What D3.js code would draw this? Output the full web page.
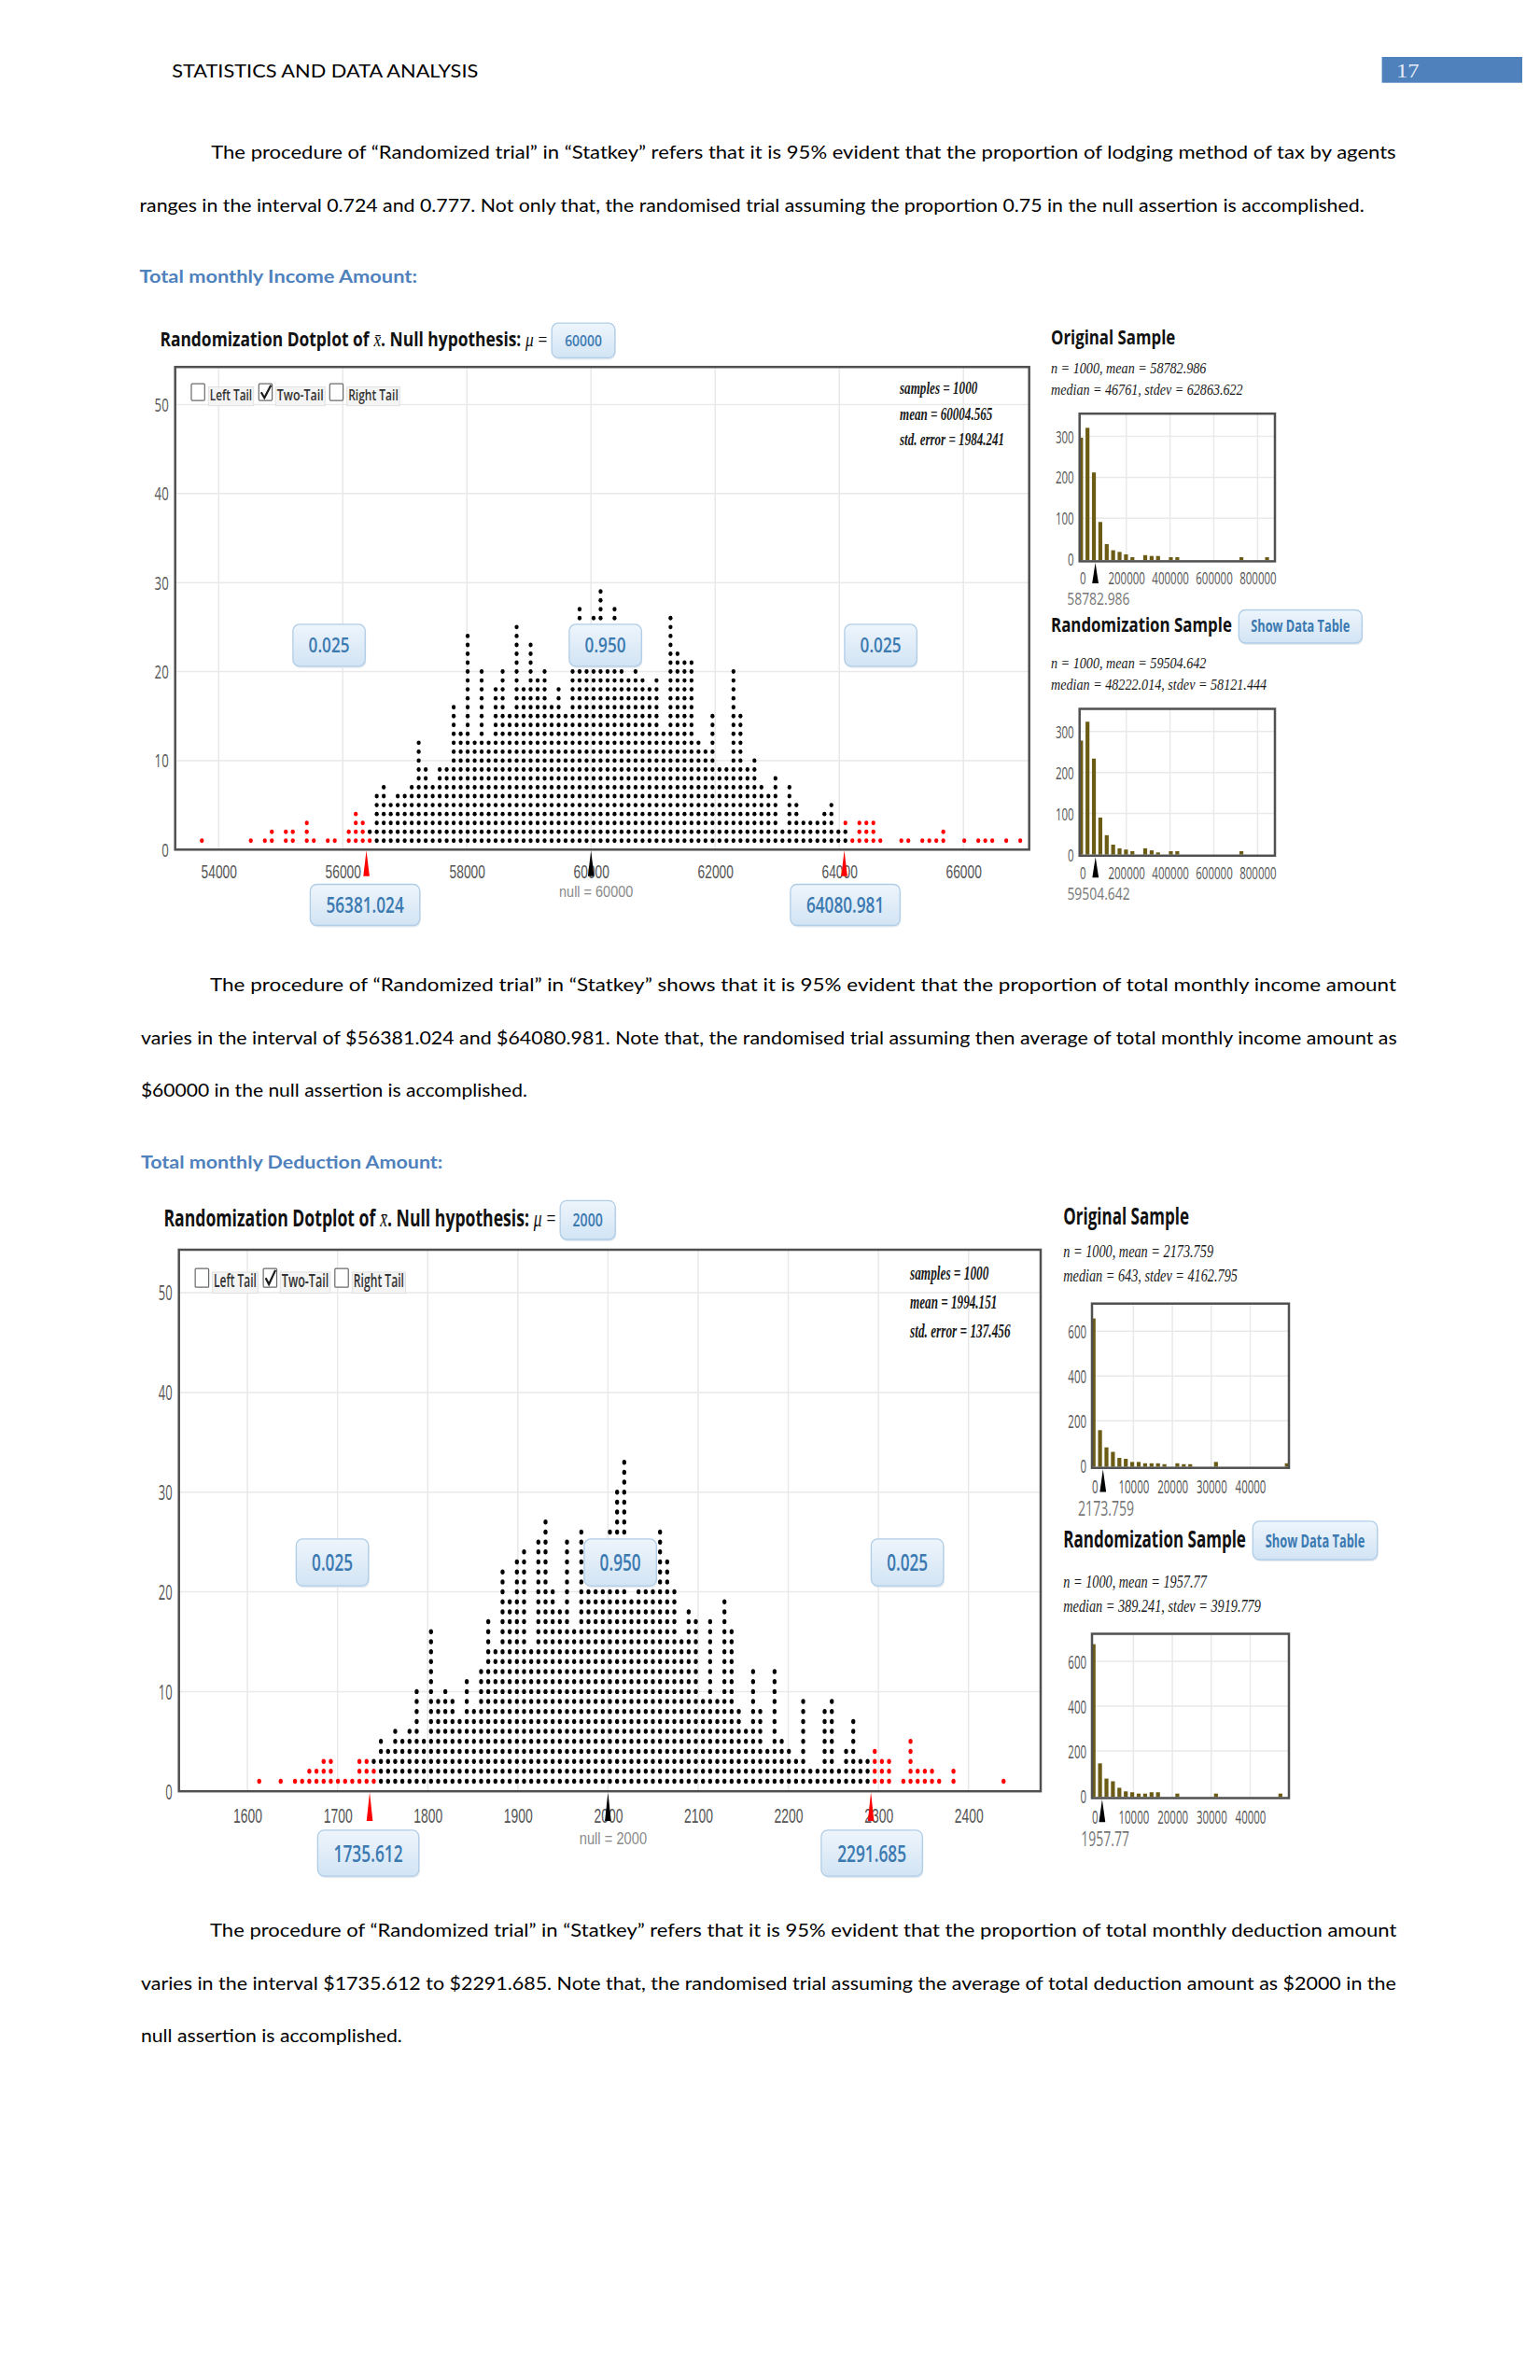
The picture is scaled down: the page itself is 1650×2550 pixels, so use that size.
<!DOCTYPE html>
<html><head><meta charset="utf-8">
<script src="https://cdn.jsdelivr.net/npm/d3@7"></script>
<style>html,body{margin:0;padding:0;background:#fff;} svg{display:block;}</style>
</head><body>
<svg id="page" width="1650" height="2550" xmlns="http://www.w3.org/2000/svg"></svg>
<script>
// ================= DATA =================
const headerTitle = "STATISTICS AND DATA ANALYSIS";
const pageNumber = "17";
const para1Lines = [
  "The procedure of \u201cRandomized trial\u201d in \u201cStatkey\u201d refers that it is 95% evident that the proportion of lodging method of tax by agents",
  "ranges in the interval 0.724 and 0.777. Not only that, the randomised trial assuming the proportion 0.75 in the null assertion is accomplished."
];
const heading1 = "Total monthly Income Amount:";
const para2Lines = [
  "The procedure of \u201cRandomized trial\u201d in \u201cStatkey\u201d shows that it is 95% evident that the proportion of total monthly income amount",
  "varies in the interval of $56381.024 and $64080.981. Note that, the randomised trial assuming then average of total monthly income amount as",
  "$60000 in the null assertion is accomplished."
];
const heading2 = "Total monthly Deduction Amount:";
const para3Lines = [
  "The procedure of \u201cRandomized trial\u201d in \u201cStatkey\u201d refers that it is 95% evident that the proportion of total monthly deduction amount",
  "varies in the interval $1735.612 to $2291.685. Note that, the randomised trial assuming the average of total deduction amount as $2000 in the",
  "null assertion is accomplished."
];

// --- dotplot 1 : income (randomization means, one dot per sample, stacked per column)
const incomeCounts = [1,0,0,0,0,0,0,1,0,1,2,0,2,2,0,3,1,0,1,1,0,2,4,3,2,
  6,7,5,6,6,7,12,9,7,9,9,16,13,24,12,20,12,18,20,15,25,18,23,19,20,16,18,15,21,27,21,26,29,
  21,27,20,19,20,19,18,19,13,26,22,21,21,12,11,15,9,9,20,15,9,10,7,6,8,2,7,5,3,3,3,4,5,2,3,
  1,3,3,3,1,0,0,1,1,0,1,1,1,2,0,0,1,0,1,1,1,0,1,0,1];
const incomeBinStart = 53730;
const incomeBinWidth = 112.7;
const incomeMixedCols = [24, 92];
const incomeMixedRed = [1, 1];
const incomeXTicks = [54000, 56000, 58000, 60000, 62000, 64000, 66000];
const incomeNull = 60000;
const incomeCI = [56381.024, 64080.981];
const incomeProps = ["0.025", "0.950", "0.025"];
const incomeStatLines = ["samples = 1000", "mean = 60004.565", "std. error = 1984.241"];

// --- dotplot 2 : deduction
const dedCounts = [1,0,0,1,0,1,1,2,2,3,3,1,1,1,3,3,3,
  5,4,6,5,6,10,5,16,9,10,9,7,11,8,12,17,14,22,19,23,24,14,25,27,20,18,25,16,26,21,20,20,26,30,33,
  19,20,20,21,26,23,20,15,18,17,9,17,9,19,16,8,6,12,8,4,12,5,4,3,9,2,2,8,9,2,4,7,3,3,4,3,3,
  0,1,5,2,2,2,1,0,2,0,0,0,0,0,0,1];
const dedBinStart = 1613.1;
const dedBinWidth = 7.94;
const dedMixedCols = [16];
const dedMixedRed = [2];
const dedXTicks = [1600, 1700, 1800, 1900, 2000, 2100, 2200, 2300, 2400];
const dedNull = 2000;
const dedCI = [1735.612, 2291.685];
const dedProps = ["0.025", "0.950", "0.025"];
const dedStatLines = ["samples = 1000", "mean = 1994.151", "std. error = 137.456"];

const dotYTicks = [0, 10, 20, 30, 40, 50];
const tailLabels = ["Left Tail", "Two-Tail", "Right Tail"];
const tailChecked = [false, true, false];
const titlePieces = ["Randomization Dotplot of", "x\u0304", ". Null hypothesis:", "\u03bc", "="];

// --- small histograms (income)
const incomeHistXTicks = [0, 200000, 400000, 600000, 800000];
const incomeHistYTicks = [0, 100, 200, 300];
const incomeHistBin0 = -6400;
const incomeHistBinWidth = 29300;
const incomeOrigHist = [297,321,212,91,37,22,18,12,5,0,10,8,8,0,5,5,0,0,0,0,0,0,0,0,0,5,0,0,0,5];
const incomeRandHist = [278,324,234,90,47,24,15,12,8,0,15,10,5,0,8,8,0,0,0,0,0,0,0,0,0,8];
const incomeOrigMean = 58782.986;
const incomeRandMean = 59504.642;
const incomeOrigStatLines = ["n = 1000, mean = 58782.986", "median = 46761, stdev = 62863.622"];
const incomeRandStatLines = ["n = 1000, mean = 59504.642", "median = 48222.014, stdev = 58121.444"];

// --- small histograms (deduction)
const dedHistXTicks = [0, 10000, 20000, 30000, 40000];
const dedHistYTicks = [0, 200, 400, 600];
const dedHistBin0 = -240;
const dedHistBinWidth = 1655;
const dedOrigHist = [657,158,81,61,34,30,16,16,10,10,10,6,0,10,6,6,0,0,0,16,0,0,0,0,0,0,0,0,0,0,10];
const dedRandHist = [677,145,77,65,36,20,16,10,10,16,16,0,0,10,0,0,0,0,0,10,0,0,0,0,0,0,0,0,0,10];
const dedOrigMean = 2173.759;
const dedRandMean = 1957.77;
const dedOrigStatLines = ["n = 1000, mean = 2173.759", "median = 643, stdev = 4162.795"];
const dedRandStatLines = ["n = 1000, mean = 1957.77", "median = 389.241, stdev = 3919.779"];

// ================= DRAWING =================
const svg = d3.select('#page');
const FONT_UI = "'Open Sans', 'DejaVu Sans', sans-serif";
const FONT_AXIS = "'Liberation Sans', Arial, sans-serif";
const FONT_SERIF = "'Liberation Serif', 'DejaVu Serif', serif";
const FONT_DOC = "Lato, 'Open Sans', sans-serif";
const BLUE_TXT = '#3b79b1';

const defs = svg.append('defs');
const grad = defs.append('linearGradient').attr('id', 'bluegrad').attr('x1', 0).attr('y1', 0).attr('x2', 0).attr('y2', 1);
grad.append('stop').attr('offset', '0%').attr('stop-color', '#eef5fc');
grad.append('stop').attr('offset', '100%').attr('stop-color', '#d2e4f4');

svg.append('rect').attr('width', 1650).attr('height', 2550).attr('fill', '#fff');

// place a text so that it spans exactly `w` px horizontally (horizontal scale transform)
function placeText(t, x0, y, w) {
  const nat = t.node().getComputedTextLength();
  const s = nat > 0 ? w / nat : 1;
  t.attr('x', 0).attr('y', 0).attr('text-anchor', 'start')
    .attr('transform', `translate(${x0},${y}) scale(${s.toFixed(4)},1)`);
}

function label(g, s, o) {
  const t = g.append('text').attr('x', 0).attr('y', 0)
    .attr('font-family', o.family || FONT_UI).attr('font-size', o.size)
    .attr('font-weight', o.weight || 400).attr('font-style', o.style || 'normal')
    .attr('fill', o.fill || '#000').text(s);
  const nat = t.node().getComputedTextLength();
  const w = o.width != null ? o.width : nat * (o.hx == null ? 1 : o.hx);
  const a = o.anchor || 'start';
  const x0 = a === 'middle' ? o.x - w / 2 : a === 'end' ? o.x - w : o.x;
  placeText(t, x0, o.y, w);
  return t;
}

function styleAxisText(axisG, o) {
  axisG.select('.domain').remove();
  axisG.selectAll('.tick line').remove();
  axisG.attr('font-family', null).attr('font-size', null);
  axisG.selectAll('.tick text').each(function () {
    const t = d3.select(this).attr('font-family', o.family || FONT_UI).attr('font-size', o.size)
      .attr('fill', o.fill).attr('dy', null);
    const nat = this.getComputedTextLength();
    const w = o.width != null ? o.width(t.text()) : nat * o.hx;
    const x0 = o.anchor === 'middle' ? o.ax - w / 2 : o.anchor === 'end' ? o.ax - w : o.ax;
    placeText(t, x0, o.y, w);
  });
}

function blueBox(g, x0, y0, w, h) {
  g.append('rect').attr('x', x0 + 1).attr('y', y0 + 2).attr('width', w).attr('height', h).attr('rx', 7)
    .attr('fill', '#e6ebf0');
  g.append('rect').attr('x', x0).attr('y', y0).attr('width', w).attr('height', h).attr('rx', 7)
    .attr('fill', 'url(#bluegrad)').attr('stroke', '#b0cde7').attr('stroke-width', 1.3);
}

// ---------- page text ----------
function docLine(s, x0, x1, baseline, o) {
  o = o || {};
  label(svg, s, { x: x0, y: baseline, size: o.size || 19, family: FONT_DOC, weight: o.weight || 400,
    fill: o.fill || '#000', width: x1 - x0 });
}
label(svg, headerTitle, { x: 184.2, y: 83, size: 20, family: FONT_DOC, fill: '#000', width: 328.3 });
svg.append('rect').attr('x', 1480.6).attr('y', 61).attr('width', 150.4).attr('height', 27.7).attr('fill', '#4f81bd');
label(svg, pageNumber, { x: 1496, y: 83, size: 22, family: FONT_SERIF, fill: '#e6edf7', width: 24.6 });

docLine(para1Lines[0], 226.2, 1496.6, 170);
docLine(para1Lines[1], 149.5, 1462.7, 226.7);
docLine(heading1, 149.5, 447.2, 303.3, { weight: 700, fill: '#4f81bd' });
docLine(para2Lines[0], 225, 1496.8, 1062.3);
docLine(para2Lines[1], 150.9, 1496.8, 1119.3);
docLine(para2Lines[2], 150.9, 565.3, 1175);
docLine(heading2, 150.9, 474.7, 1251.7, { weight: 700, fill: '#4f81bd' });
docLine(para3Lines[0], 225, 1496.8, 2075);
docLine(para3Lines[1], 150.9, 1496.8, 2131.7);
docLine(para3Lines[2], 150.9, 431.2, 2188.3);

// ---------- dotplot ----------
function drawDotplot(c) {
  const g = svg.append('g');
  const fs = c.fs;
  const ws = (c.right - c.left) / 915;
  const x = d3.scaleLinear().domain(c.xDomain).range([c.left, c.right]);
  const y = d3.scaleLinear().domain([0, 50]).range([c.bottom, c.y50]);

  g.append('g').selectAll('line').data(c.xTicks).join('line')
    .attr('x1', d => x(d)).attr('x2', d => x(d)).attr('y1', c.top).attr('y2', c.bottom)
    .attr('stroke', '#e9e9e9').attr('stroke-width', 1.5);
  g.append('g').selectAll('line').data(dotYTicks.filter(d => d > 0)).join('line')
    .attr('x1', c.left).attr('x2', c.right).attr('y1', d => y(d)).attr('y2', d => y(d))
    .attr('stroke', '#e9e9e9').attr('stroke-width', 1.5);

  const dots = [];
  c.counts.forEach((n, k) => {
    const v = c.binStart + k * c.binWidth;
    const mi = c.mixedCols.indexOf(k);
    for (let i = 1; i <= n; i++) {
      let red = v < c.ci[0] || v > c.ci[1];
      if (mi >= 0) {
        const r = c.mixedRed[mi];
        red = v < c.nullVal ? i <= r : i > n - r;
      }
      dots.push({ v, i, red });
    }
  });
  g.append('g').selectAll('ellipse').data(dots).join('ellipse')
    .attr('cx', d => x(d.v)).attr('cy', d => y(d.i))
    .attr('rx', 2.15).attr('ry', 2.45 * fs)
    .attr('fill', d => d.red ? '#ff0000' : '#000');

  g.append('rect').attr('x', c.left).attr('y', c.top).attr('width', c.right - c.left).attr('height', c.bottom - c.top)
    .attr('fill', 'none').attr('stroke', '#505050').attr('stroke-width', 2.5);

  const xa = g.append('g').attr('transform', `translate(0,${c.bottom})`)
    .call(d3.axisBottom(x).tickValues(c.xTicks).tickFormat(d3.format('d')).tickSize(0));
  styleAxisText(xa, { family: FONT_AXIS, size: 20 * fs, fill: '#555', anchor: 'middle', ax: 0, y: 30.3 * fs,
    width: s => s.length * c.digitW });
  const ya = g.append('g').attr('transform', `translate(${c.left},0)`)
    .call(d3.axisLeft(y).tickValues(dotYTicks).tickFormat(d3.format('d')).tickSize(0));
  styleAxisText(ya, { size: 20 * fs, fill: '#555', hx: c.hx, anchor: 'end', ax: -7, y: 7 * fs });

  const tri = (cx, col) => g.append('path')
    .attr('d', `M${cx - 3.3},${c.bottom + 28.5 * fs} L${cx},${c.bottom + 1} L${cx + 3.3},${c.bottom + 28.5 * fs} Z`)
    .attr('fill', col);
  tri(x(c.nullVal), '#000');
  tri(x(c.ci[0]), '#ff0000');
  tri(x(c.ci[1]), '#ff0000');
  label(g, 'null = ' + c.nullVal, { x: x(c.nullVal) + 5.5, y: c.bottom + 50.6 * fs, size: 17 * fs,
    family: FONT_AXIS, fill: '#8a8a8a', anchor: 'middle', width: c.nullLabelW });

  c.ci.forEach((v, i) => {
    const cx = x(v) + (i === 0 ? -1.5 : 1);
    blueBox(g, cx - c.valBoxW / 2, c.bottom + 37.2 * fs, c.valBoxW, 44 * fs);
    label(g, String(v), { x: cx, y: c.bottom + 67.5 * fs, size: 23 * fs, weight: 600, fill: BLUE_TXT,
      anchor: 'middle', width: c.valTextW });
  });

  const lo = x(c.ci[0]), hi = x(c.ci[1]);
  const pcx = [lo - 40, (lo + hi) / 2, hi + 39];
  const pcy = y(22.95);
  pcx.forEach((cx, i) => {
    const h = 44.9 * fs;
    blueBox(g, cx - 38.7, pcy - h / 2, 77.4, h);
    label(g, c.props[i], { x: cx, y: pcy + 22 * fs * 0.36, size: 22 * fs, weight: 600, fill: BLUE_TXT,
      anchor: 'middle', width: 44 });
  });

  const boxX = [17.3, 89.6, 165.6], labX = [[35.6, 84], [107.6, 160.6], [184, 240.6]];
  tailLabels.forEach((s, i) => {
    const bx = c.left + boxX[i] * ws, by = c.top + 18 * fs;
    const lx0 = c.left + labX[i][0] * ws, lx1 = c.left + labX[i][1] * ws;
    g.append('rect').attr('x', lx0).attr('y', c.top + 21.4 * fs).attr('width', lx1 - lx0).attr('height', 20.1 * fs)
      .attr('fill', '#f4f4f4').attr('stroke', '#e0e0e0').attr('stroke-width', 1);
    g.append('rect').attr('x', bx).attr('y', by).attr('width', 14.3 * ws).attr('height', 17.9 * fs)
      .attr('fill', '#fff').attr('stroke', '#6a6a6a').attr('stroke-width', 1.2).attr('rx', 1);
    if (tailChecked[i]) {
      g.append('path')
        .attr('d', `M${bx + 2.5},${by + 9 * fs} L${bx + 6},${by + 15 * fs} L${bx + 13},${by + 1.5 * fs}`)
        .attr('fill', 'none').attr('stroke', '#1a1a1a').attr('stroke-width', 2.2);
    }
    label(g, s, { x: (lx0 + lx1) / 2, y: c.top + 36 * fs, size: 17 * fs, weight: 600, fill: '#333',
      anchor: 'middle', width: lx1 - lx0 - 3 });
  });

  c.statLines.forEach((s, i) => {
    label(g, s, { x: c.right - 138.7 * ws, y: c.top + (28.7 + 27.75 * i) * fs, size: 18 * fs,
      family: FONT_SERIF, style: 'italic', weight: 700, fill: '#1a1a1a', width: c.statW[i] });
  });

  // title, drawn as separate pieces laid side by side
  const tx = c.left - 16.3, ty = c.top - 21.9 * fs, tsz = 22 * fs;
  const serifPiece = [false, true, false, true, true];
  const italicPiece = [false, true, false, true, false];
  const gapAfter = [1, 0, 1, 1, 0];
  const tmp = titlePieces.map((s, i) => {
    const t = g.append('text').attr('font-size', tsz)
      .attr('font-family', serifPiece[i] ? FONT_SERIF : FONT_UI)
      .attr('font-weight', serifPiece[i] ? 400 : 700)
      .attr('font-style', italicPiece[i] ? 'italic' : 'normal')
      .attr('fill', '#111').text(s);
    return { t, w: t.node().getComputedTextLength() };
  });
  const gap = 0.27 * tsz;
  const total = d3.sum(tmp, d => d.w) + gap * d3.sum(gapAfter);
  const k = c.titleW / total;
  let cur = tx;
  tmp.forEach((d, i) => {
    placeText(d.t, cur, ty, d.w * k);
    cur += d.w * k + gapAfter[i] * gap * k;
  });
  const ix = tx + c.titleW + 4.8, iy = c.top - 47 * fs, ih = 37.2 * fs;
  blueBox(g, ix, iy, c.inputW, ih);
  label(g, String(c.nullVal), { x: ix + c.inputW / 2, y: iy + ih / 2 + 17 * fs * 0.36, size: 17 * fs,
    weight: 600, fill: BLUE_TXT, anchor: 'middle', width: c.inputTextW });
}

drawDotplot({
  counts: incomeCounts, binStart: incomeBinStart, binWidth: incomeBinWidth,
  mixedCols: incomeMixedCols, mixedRed: incomeMixedRed, xTicks: incomeXTicks,
  nullVal: incomeNull, ci: incomeCI, props: incomeProps, statLines: incomeStatLines,
  left: 187.7, right: 1102.7, top: 393.2, bottom: 910.3, y50: 433.4, xDomain: [53300, 67060],
  fs: 1, hx: 0.66, digitW: 7.66, titleW: 415, inputW: 67.6, inputTextW: 39.7, nullLabelW: 79.3,
  valBoxW: 117.4, valTextW: 83.3, statW: [83.3, 99.3, 112]
});
drawDotplot({
  counts: dedCounts, binStart: dedBinStart, binWidth: dedBinWidth,
  mixedCols: dedMixedCols, mixedRed: dedMixedRed, xTicks: dedXTicks,
  nullVal: dedNull, ci: dedCI, props: dedProps, statLines: dedStatLines,
  left: 191.7, right: 1115, top: 1339, bottom: 1919.2, y50: 1385.1, xDomain: [1524, 2480],
  fs: 1.12, hx: 0.58, digitW: 7.75, titleW: 420, inputW: 59, inputTextW: 32.3, nullLabelW: 72.3,
  valBoxW: 108.4, valTextW: 74, statW: [84.3, 93.3, 107.6]
});

// ---------- small histogram panels ----------
function miniHist(g, p, h) {
  const fs = p.fs;
  const x = d3.scaleLinear().domain([0, p.xRefVal]).range([p.x0px, p.xRefPx]);
  const y = d3.scaleLinear().domain([0, p.yRefVal]).range([h.y0, h.yRefPx]);
  g.append('g').selectAll('line').data(p.xTicks.filter(d => d > 0)).join('line')
    .attr('x1', d => x(d)).attr('x2', d => x(d)).attr('y1', h.top).attr('y2', h.bottom)
    .attr('stroke', '#e9e9e9').attr('stroke-width', 1.5);
  g.append('g').selectAll('line').data(p.yTicks.filter(d => d > 0)).join('line')
    .attr('x1', p.frameL).attr('x2', p.frameR).attr('y1', d => y(d)).attr('y2', d => y(d))
    .attr('stroke', '#e9e9e9').attr('stroke-width', 1.5);
  const bars = h.counts.map((n, k) => ({ v: p.bin0 + k * p.binW, n })).filter(d => d.n > 0);
  g.append('g').selectAll('rect').data(bars).join('rect')
    .attr('x', d => x(d.v) - 2.1).attr('width', 4.2)
    .attr('y', d => y(d.n)).attr('height', d => h.bottom - 1.2 - y(d.n))
    .attr('fill', '#6b5b14');
  g.append('rect').attr('x', p.frameL).attr('y', h.top).attr('width', p.frameR - p.frameL).attr('height', h.bottom - h.top)
    .attr('fill', 'none').attr('stroke', '#505050').attr('stroke-width', 2.5);
  const xa = g.append('g').attr('transform', `translate(0,${h.bottom})`)
    .call(d3.axisBottom(x).tickValues(p.xTicks).tickFormat(d3.format('d')).tickSize(0));
  styleAxisText(xa, { size: 18 * fs, fill: '#555', hx: p.tickHx, anchor: 'middle', ax: 0, y: 25 * fs });
  const ya = g.append('g').attr('transform', `translate(${p.frameL},0)`)
    .call(d3.axisLeft(y).tickValues(p.yTicks).tickFormat(d3.format('d')).tickSize(0));
  styleAxisText(ya, { size: 18 * fs, fill: '#555', hx: p.tickHx, anchor: 'end', ax: -6, y: 6.5 * fs });
  const mx = x(h.mean);
  g.append('path').attr('d', `M${mx - 3.4},${h.bottom + 23.5 * fs} L${mx},${h.bottom + 1.5} L${mx + 3.4},${h.bottom + 23.5 * fs} Z`)
    .attr('fill', '#000');
  label(g, String(h.mean), { x: mx + 3.3, y: h.bottom + 47 * fs, size: 19 * fs, fill: '#777',
    anchor: 'middle', width: h.meanW });
}

function drawPanel(p) {
  const g = svg.append('g');
  const fs = p.fs;
  label(g, 'Original Sample', { x: p.textX, y: p.titleBase, size: 22 * fs, weight: 700, fill: '#111', width: p.titleW });
  p.origStats.forEach((s, i) => label(g, s, { x: p.textX, y: p.statBase[i], size: 17 * fs, family: FONT_SERIF,
    style: 'italic', fill: '#1a1a1a', width: p.statW[i] }));
  miniHist(g, p, p.h1);
  label(g, 'Randomization Sample', { x: p.textX, y: p.randTitleBase, size: 22 * fs, weight: 700, fill: '#111', width: p.randTitleW });
  const b = p.button;
  blueBox(g, b[0], b[1], b[2], b[3]);
  label(g, 'Show Data Table', { x: b[0] + b[2] / 2, y: p.randTitleBase, size: 18 * fs, weight: 700, fill: BLUE_TXT,
    anchor: 'middle', width: p.buttonTextW });
  p.randStats.forEach((s, i) => label(g, s, { x: p.textX, y: p.rstatBase[i], size: 17 * fs, family: FONT_SERIF,
    style: 'italic', fill: '#1a1a1a', width: p.rstatW[i] }));
  miniHist(g, p, p.h2);
}

drawPanel({
  fs: 1, tickHx: 0.64, textX: 1126, frameL: 1156.7, frameR: 1366,
  x0px: 1159.8, xRefVal: 200000, xRefPx: 1206.7, yRefVal: 300,
  xTicks: incomeHistXTicks, yTicks: incomeHistYTicks, bin0: incomeHistBin0, binW: incomeHistBinWidth,
  titleBase: 369.3, titleW: 133.3, origStats: incomeOrigStatLines, statBase: [399.7, 423.2], statW: [166.7, 205.7],
  randTitleBase: 677, randTitleW: 194, button: [1327.3, 653.5, 132, 35.5], buttonTextW: 106,
  randStats: incomeRandStatLines, rstatBase: [715.9, 739.4], rstatW: [166.7, 231.3],
  h1: { top: 443.2, bottom: 601.4, y0: 599.2, yRefPx: 467.6, counts: incomeOrigHist, mean: incomeOrigMean, meanW: 67.3 },
  h2: { top: 759.5, bottom: 916.8, y0: 915.5, yRefPx: 783.8, counts: incomeRandHist, mean: incomeRandMean, meanW: 67.3 }
});
drawPanel({
  fs: 1.1, tickHx: 0.58, textX: 1139.3, frameL: 1170, frameR: 1381,
  x0px: 1172.7, xRefVal: 10000, xRefPx: 1214.4, yRefVal: 600,
  xTicks: dedHistXTicks, yTicks: dedHistYTicks, bin0: dedHistBin0, binW: dedHistBinWidth,
  titleBase: 1311.9, titleW: 134.7, origStats: dedOrigStatLines, statBase: [1347.3, 1372.9], statW: [160.7, 186.4],
  randTitleBase: 1657.5, randTitleW: 195.7, button: [1342.3, 1629.9, 133.4, 41.1], buttonTextW: 106.6,
  randStats: dedRandStatLines, rstatBase: [1701.1, 1726.8], rstatW: [153.4, 211.4],
  h1: { top: 1396.7, bottom: 1572.7, y0: 1570.2, yRefPx: 1426.3, counts: dedOrigHist, mean: dedOrigMean, meanW: 60 },
  h2: { top: 1750.5, bottom: 1926.5, y0: 1924.1, yRefPx: 1780.1, counts: dedRandHist, mean: dedRandMean, meanW: 51.7 }
});
</script>
</body></html>
